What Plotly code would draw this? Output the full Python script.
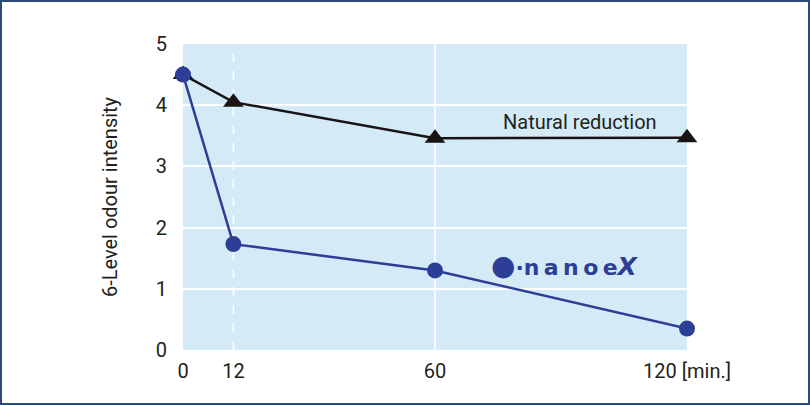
import plotly.graph_objects as go

minutes = [0, 12, 60, 120]
nanoe_x = [4.5, 1.73, 1.3, 0.35]
natural = [4.5, 4.05, 3.46, 3.47]
x_tick_vals = [0, 12, 60, 120]
x_tick_text = ["0", "12", "60", "120 [min.]"]
y_tick_vals = [0, 1, 2, 3, 4, 5]

W, H = 810, 405
L, R, T, B = 183, 123, 44, 55
pw, ph = W - L - R, H - T - B

BLUE = "#2c3e96"
TXT = "#231f20"
BG = "#d4eaf7"
FONT = "Roboto"
FS = 20

fig = go.Figure()
fig.add_trace(go.Scatter(x=minutes, y=natural, mode="lines+markers",
                         line=dict(color="#1a1414", width=2.5),
                         marker=dict(symbol="triangle-up", size=18, color="#1a1414"),
                         cliponaxis=False, showlegend=False))
fig.add_trace(go.Scatter(x=minutes, y=nanoe_x, mode="lines+markers",
                         line=dict(color=BLUE, width=2.5),
                         marker=dict(symbol="circle", size=16, color=BLUE),
                         cliponaxis=False, showlegend=False))

shapes = [
    dict(type="line", xref="x", yref="paper", x0=12, x1=12, y0=0, y1=1,
         line=dict(color="white", width=1.5, dash="dash"), layer="below"),
    dict(type="line", xref="x", yref="paper", x0=60, x1=60, y0=0, y1=1,
         line=dict(color="white", width=1.5), layer="below"),
    dict(type="rect", xref="paper", yref="paper",
         x0=(-L + 1) / pw, x1=(W - L - 1) / pw,
         y0=(-B + 1) / ph, y1=(H - B - 1) / ph,
         line=dict(color="#2b4a7c", width=2), fillcolor="rgba(0,0,0,0)"),
]

fig.update_layout(
    width=W, height=H,
    margin=dict(l=L, r=R, t=T, b=B),
    paper_bgcolor="white", plot_bgcolor=BG,
    font=dict(family=FONT, color=TXT, size=FS),
    shapes=shapes,
    xaxis=dict(range=[0, 120], tickvals=x_tick_vals, ticktext=x_tick_text,
               showgrid=False, zeroline=False, showline=False,
               ticks="", ticklabelstandoff=7,
               tickfont=dict(size=FS, color=TXT, family=FONT)),
    yaxis=dict(range=[0, 5], tickvals=y_tick_vals, showgrid=True,
               gridcolor="white", gridwidth=1.5, zeroline=False, showline=False,
               ticks="", ticklabelstandoff=15,
               tickfont=dict(size=FS, color=TXT, family=FONT),
               title=dict(text="6-Level odour intensity",
                          font=dict(size=FS, color=TXT, family=FONT),
                          standoff=32)),
)

fig.add_annotation(x=94.5, y=3.72, xref="x", yref="y", text="Natural reduction",
                   showarrow=False, font=dict(size=FS, color=TXT, family=FONT))

# nanoe X logo as text
fig.add_annotation(x=(489 - L) / pw, y=(H - B - 265) / ph, xref="paper", yref="paper",
                   xanchor="left", yanchor="middle", showarrow=False,
                   text=("<b><span style='font-size:28px'>●</span>·"
                         "n\u2009a\u2009n\u2009o\u2009e"
                         "<i><span style='font-size:25px'>X</span></i></b>"),
                   font=dict(size=22, color=BLUE, family="DejaVu Sans"))

fig.write_html("out.html", config={"displayModeBar": False},
               post_script="document.body.style.margin='0';")
